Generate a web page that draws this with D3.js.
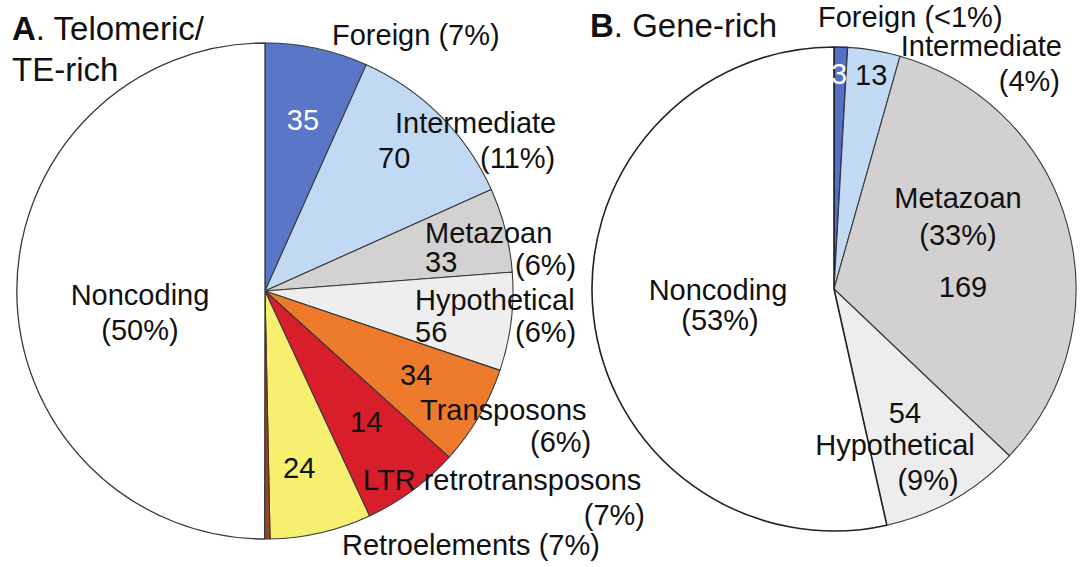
<!DOCTYPE html>
<html>
<head>
<meta charset="utf-8">
<script src="https://cdn.jsdelivr.net/npm/d3@7"></script>
<style>
  body { margin: 0; background: #fff; }
  svg { display: block; font-family: "Liberation Sans", Arial, sans-serif; }
</style>
</head>
<body>
<div id="chart"></div>
<script>
// Panel A: telomeric / TE-rich
var catsA   = ['Foreign', 'Intermediate', 'Metazoan', 'Hypothetical', 'Transposons',
               'LTR retrotransposons', 'Retroelements', 'Other', 'Noncoding'];
var shareA  = [6.7, 11.6, 5.5, 6.4, 6.5, 6.4, 6.6, 0.35, 50];
var countsA = ['35', '70', '33', '56', '34', '14', '24', '', ''];
var pctA    = ['7%', '11%', '6%', '6%', '6%', '7%', '7%', '', '50%'];
var colorsA = ['#5a76c6', '#c2d9f3', '#d3d1d1', '#eeeeee', '#ee7b2c',
               '#d81d2b', '#f6ef70', '#8e4a26', '#ffffff'];

// Panel B: gene-rich
var catsB   = ['Foreign', 'Intermediate', 'Metazoan', 'Hypothetical', 'Noncoding'];
var shareB  = [0.9, 3.5, 32.7, 9.4, 53.5];
var countsB = ['3', '13', '169', '54', ''];
var pctB    = ['<1%', '4%', '33%', '9%', '53%'];
var colorsB = ['#5670c4', '#c3daf5', '#d2d0d0', '#ededed', '#ffffff'];

var width = 1085, height = 567;

var svg = d3.select('#chart').append('svg')
    .attr('width', width).attr('height', height);

// label placement, relative to each pie centre (i = slice index)
var labelsA = [
    { i: 0, part: 'count',   x: 38,   y: -161, anchor: 'middle', fill: '#fff' },
    { i: 0, part: 'namepct', x: 67,   y: -246, anchor: 'start' },
    { i: 1, part: 'name',    x: 130,  y: -158, anchor: 'start' },
    { i: 1, part: 'count',   x: 113,  y: -123, anchor: 'start' },
    { i: 1, part: 'pct',     x: 215,  y: -123, anchor: 'start' },
    { i: 2, part: 'name',    x: 160,  y: -48,  anchor: 'start' },
    { i: 2, part: 'count',   x: 160,  y: -19,  anchor: 'start' },
    { i: 2, part: 'pct',     x: 250,  y: -16,  anchor: 'start' },
    { i: 3, part: 'name',    x: 150,  y: 19,   anchor: 'start' },
    { i: 3, part: 'count',   x: 150,  y: 51,   anchor: 'start' },
    { i: 3, part: 'pct',     x: 250,  y: 51,   anchor: 'start' },
    { i: 4, part: 'count',   x: 135,  y: 94,   anchor: 'start' },
    { i: 4, part: 'name',    x: 155,  y: 129,  anchor: 'start' },
    { i: 4, part: 'pct',     x: 265,  y: 161,  anchor: 'start' },
    { i: 5, part: 'count',   x: 85,   y: 141,  anchor: 'start' },
    { i: 5, part: 'name',    x: 98,   y: 199,  anchor: 'start' },
    { i: 5, part: 'pct',     x: 380,  y: 234,  anchor: 'end' },
    { i: 6, part: 'count',   x: 18,   y: 187,  anchor: 'start' },
    { i: 6, part: 'namepct', x: 77,   y: 264,  anchor: 'start' },
    { i: 8, part: 'name',    x: -125, y: 14,   anchor: 'middle' },
    { i: 8, part: 'pct',     x: -125, y: 49,   anchor: 'middle' }
];

var labelsB = [
    { i: 0, part: 'namepct', x: -16,  y: -262, anchor: 'start' },
    { i: 0, part: 'count',   x: 5,    y: -205, anchor: 'middle', fill: '#fff' },
    { i: 1, part: 'count',   x: 21,   y: -204, anchor: 'start' },
    { i: 1, part: 'name',    x: 228,  y: -233, anchor: 'end' },
    { i: 1, part: 'pct',     x: 226,  y: -198, anchor: 'end' },
    { i: 2, part: 'name',    x: 124,  y: -81,  anchor: 'middle' },
    { i: 2, part: 'pct',     x: 124,  y: -44,  anchor: 'middle' },
    { i: 2, part: 'count',   x: 129,  y: 8,    anchor: 'middle' },
    { i: 3, part: 'count',   x: 71,   y: 134,  anchor: 'middle' },
    { i: 3, part: 'name',    x: 61,   y: 166,  anchor: 'middle' },
    { i: 3, part: 'pct',     x: 94,   y: 201,  anchor: 'middle' },
    { i: 4, part: 'name',    x: -116, y: 11,   anchor: 'middle' },
    { i: 4, part: 'pct',     x: -114, y: 41,   anchor: 'middle' }
];

function drawPie(cx, cy, r, cats, share, counts, pcts, colors, labels, edges) {
    var g = svg.append('g').attr('transform', 'translate(' + cx + ',' + cy + ')');

    var pie = d3.pie().sort(null).value(function(d) { return d; });
    var arc = d3.arc().innerRadius(0).outerRadius(r);
    var arcs = pie(share);

    g.selectAll('path.slice').data(arcs).enter()
      .append('path').attr('class', 'slice')
      .attr('d', arc)
      .attr('fill', function(d, i) { return colors[i]; })
      .attr('stroke', function(d, i) { return (edges[i] || {}).stroke || '#3a3a3a'; })
      .attr('stroke-width', function(d, i) { return (edges[i] || {}).width || 1.1; })
      .attr('stroke-linejoin', 'round');

    function textFor(l) {
        var i = l.i;
        if (l.part === 'count') return counts[i];
        if (l.part === 'name') return cats[i];
        if (l.part === 'pct') return '(' + pcts[i] + ')';
        return cats[i] + ' (' + pcts[i] + ')';
    }

    g.selectAll('text.lbl').data(labels).enter()
      .append('text').attr('class', 'lbl')
      .attr('x', function(l) { return l.x; })
      .attr('y', function(l) { return l.y; })
      .attr('text-anchor', function(l) { return l.anchor; })
      .attr('fill', function(l) { return l.fill || '#111'; })
      .style('font-size', '29px')
      .text(textFor);
}

drawPie(265, 291, 248, catsA, shareA, countsA, pctA, colorsA, labelsA,
        { 7: { stroke: '#5a2a10', width: 1 }, 8: { stroke: '#3a3a3a', width: 1.3 } });

drawPie(834, 289, 242, catsB, shareB, countsB, pctB, colorsB, labelsB,
        { 0: { stroke: '#1c2a6e', width: 1.6 }, 4: { stroke: '#222', width: 1.6 } });

// panel titles
function title(x, y, letter, lines) {
    var t = svg.append('text').attr('x', x).attr('y', y)
        .attr('fill', '#111').style('font-size', '33px');
    t.append('tspan').style('font-weight', 'bold').text(letter);
    t.append('tspan').text(lines[0]);
    for (var k = 1; k < lines.length; k++) {
        svg.append('text').attr('x', x).attr('y', y + 41 * k)
           .attr('fill', '#111').style('font-size', '33px').text(lines[k]);
    }
}
title(12, 40, 'A', ['. Telomeric/', 'TE-rich']);
title(590, 37, 'B', ['. Gene-rich']);
</script>
</body>
</html>
